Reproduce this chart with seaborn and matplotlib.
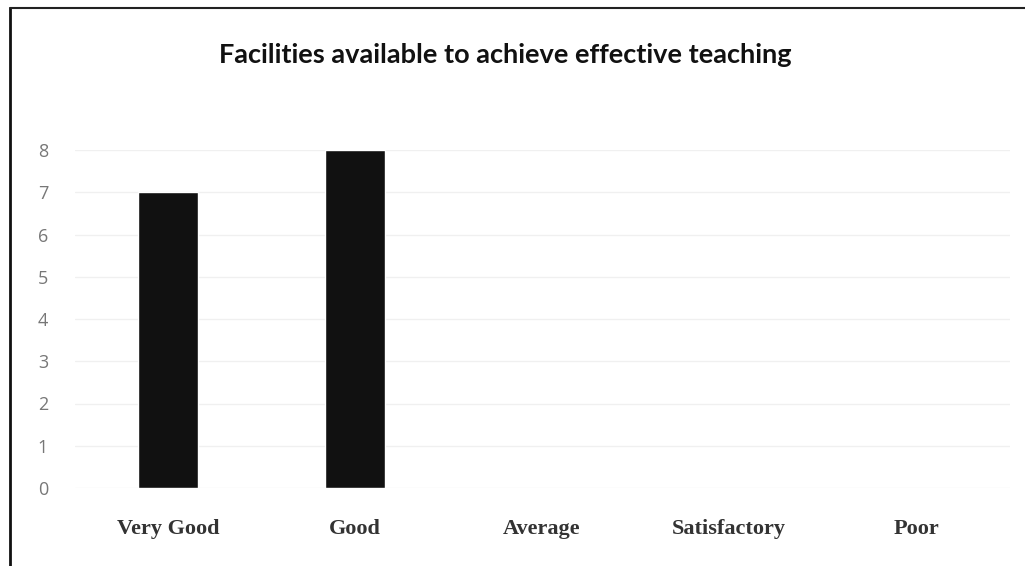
import matplotlib
matplotlib.use("Agg")
import matplotlib.pyplot as plt
import seaborn as sns
import pandas as pd
from matplotlib.lines import Line2D

# data
ratings = ["Very Good", "Good", "Average", "Satisfactory", "Poor"]
counts = [7, 8, 0, 0, 0]
y_ticks = [0, 1, 2, 3, 4, 5, 6, 7, 8]

df = pd.DataFrame({"Rating": ratings, "Count": counts})

sns.set_style("white")
fig = plt.figure(figsize=(10.25, 5.66), dpi=100)
ax = fig.add_axes([74.5 / 1025, 1 - 488 / 566, 935 / 1025, 338 / 566])

sns.barplot(data=df, x="Rating", y="Count", color="#111111", width=0.32,
            saturation=1, ax=ax, zorder=3)

ax.set_ylim(0, 8)
ax.set_xlim(-0.5, 4.5)
ax.set_yticks(y_ticks)
ax.set_yticklabels([str(t) for t in y_ticks], fontsize=13, color="#777777",
                   family="Open Sans")
ax.set_xticks(range(len(ratings)))
ax.set_xticklabels(ratings, fontsize=16, fontweight="bold", color="#333333",
                   family="Liberation Serif")
ax.tick_params(axis="y", length=0, pad=19)
ax.tick_params(axis="x", length=0, pad=22)
ax.yaxis.grid(True, color="#f0f0f0", linewidth=1, zorder=0)
for s in ax.spines.values():
    s.set_visible(False)
ax.set_xlabel("")
ax.set_ylabel("")

fig.text(0.493, 1 - 55 / 566, "Facilities available to achieve effective teaching",
         ha="center", va="center", fontsize=19.5, fontweight="bold",
         family="Lato", color="#111111")

# scanned frame: left and top edges
fig.add_artist(Line2D([10 / 1025, 10 / 1025], [0, 1 - 8 / 566], color="#111111",
                      linewidth=2, transform=fig.transFigure))
fig.add_artist(Line2D([10 / 1025, 1], [1 - 8 / 566, 1 - 8 / 566], color="#222222",
                      linewidth=1.5, transform=fig.transFigure))

fig.savefig("out.png", dpi=100)
